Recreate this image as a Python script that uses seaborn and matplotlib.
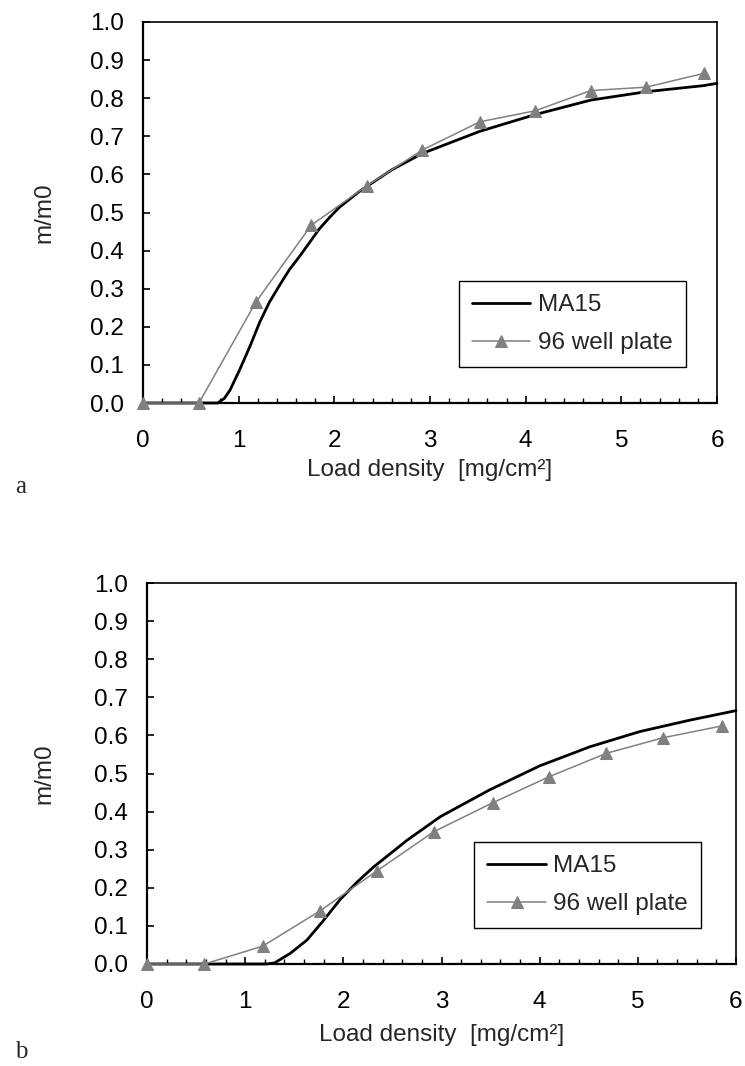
import matplotlib
matplotlib.use("Agg")
import matplotlib.pyplot as plt
import seaborn as sns
from matplotlib.ticker import MultipleLocator

# 96 well plate measurements (same load densities in both panels)
plate_x = [0.0, 0.585, 1.18, 1.76, 2.34, 2.92, 3.52, 4.10, 4.68, 5.26, 5.86]
plate_a = [0.0, 0.0, 0.265, 0.467, 0.570, 0.664, 0.738, 0.767, 0.820, 0.829, 0.865]
plate_b = [0.0, 0.0, 0.047, 0.139, 0.244, 0.347, 0.423, 0.492, 0.553, 0.594, 0.625]

# MA15 curve, panel a
ma15_a_x = [0.0, 0.78, 0.85, 0.91, 1.01, 1.12, 1.22, 1.32, 1.43, 1.53, 1.64, 1.74,
            1.84, 1.95, 2.05, 2.26, 2.60, 2.92, 3.52, 4.10, 4.68, 5.26, 5.86, 6.0]
ma15_a_y = [0.0, 0.0, 0.012, 0.034, 0.087, 0.150, 0.212, 0.264, 0.310, 0.350, 0.386, 0.421,
            0.456, 0.487, 0.513, 0.555, 0.612, 0.655, 0.713, 0.757, 0.795, 0.817, 0.833, 0.839]

# MA15 curve, panel b
ma15_b_x = [0.0, 1.22, 1.30, 1.46, 1.63, 1.80, 1.97, 2.14, 2.31, 2.48, 2.65, 2.82,
            2.99, 3.49, 4.0, 4.51, 5.02, 5.53, 6.0]
ma15_b_y = [0.0, 0.0, 0.003, 0.028, 0.063, 0.115, 0.170, 0.215, 0.255, 0.290, 0.325, 0.356,
            0.387, 0.457, 0.520, 0.570, 0.610, 0.640, 0.665]

x_ticks = [0, 1, 2, 3, 4, 5, 6]
y_ticks = [0.0, 0.1, 0.2, 0.3, 0.4, 0.5, 0.6, 0.7, 0.8, 0.9, 1.0]

sns.set_style("ticks")
plt.rcParams['font.family'] = ['Liberation Sans', 'DejaVu Sans']

GREY = '#808080'
FS = 17.5

fig = plt.figure(figsize=(7.45, 10.66), dpi=100)
ax_a = fig.add_axes([143 / 745, 1 - 403 / 1066, 574 / 745, 381 / 1066])
ax_b = fig.add_axes([147 / 745, 1 - 964 / 1066, 589 / 745, 381 / 1066])

panels = [
    (ax_a, ma15_a_x, ma15_a_y, plate_a, -0.153, -0.147, 493, 'a'),
    (ax_b, ma15_b_x, ma15_b_y, plate_b, -0.156, -0.157, 1058, 'b'),
]

for ax, mx, my, py, ylab_x, xlab_y, letter_y, letter in panels:
    sns.lineplot(x=mx, y=my, ax=ax, color='black', lw=2.0, label='MA15',
                 sort=False, estimator=None, clip_on=False, zorder=3)
    sns.lineplot(x=plate_x, y=py, ax=ax, color=GREY, lw=1.1, marker='^',
                 markersize=9, markeredgecolor=GREY, markerfacecolor=GREY,
                 label='96 well plate', sort=False, estimator=None,
                 clip_on=False, zorder=4)

    ax.set_xlim(0, 6)
    ax.set_ylim(0, 1.0)
    ax.set_xticks(x_ticks)
    ax.set_xticklabels([str(v) for v in x_ticks])
    ax.set_yticks(y_ticks)
    ax.set_yticklabels([f'{v:.1f}' for v in y_ticks])
    ax.xaxis.set_minor_locator(MultipleLocator(0.2))

    ax.tick_params(axis='both', which='major', direction='in', length=5, width=1.2,
                   labelsize=FS, colors='black')
    ax.tick_params(axis='x', which='major', pad=19.5)
    ax.tick_params(axis='y', which='major', pad=14)
    ax.tick_params(axis='x', which='minor', direction='in', length=3.5, width=1.0,
                   colors='black')
    ax.tick_params(top=False, right=False, which='both')

    for side in ['left', 'bottom']:
        ax.spines[side].set_linewidth(1.6)
        ax.spines[side].set_color('black')
    for side in ['top', 'right']:
        ax.spines[side].set_linewidth(1.2)
        ax.spines[side].set_color('black')

    ax.set_ylabel('m/m0', fontsize=FS)
    ax.set_xlabel('Load density  [mg/cm²]', fontsize=FS)
    ax.yaxis.set_label_coords(ylab_x, 0.5)
    ax.xaxis.set_label_coords(0.5, xlab_y)

    leg = ax.legend(loc='center', bbox_to_anchor=(0.748, 0.207), fontsize=FS,
                    frameon=True, fancybox=False, framealpha=1, edgecolor='black',
                    handlelength=2.4, handletextpad=0.3, labelspacing=0.65,
                    borderpad=0.55, borderaxespad=0)
    leg.get_frame().set_linewidth(1.0)

    fig.text(15 / 745, 1 - letter_y / 1066, letter, fontsize=18,
             family=['Liberation Serif', 'DejaVu Serif'], ha='left', va='baseline')

fig.savefig('out.png', dpi=100)
